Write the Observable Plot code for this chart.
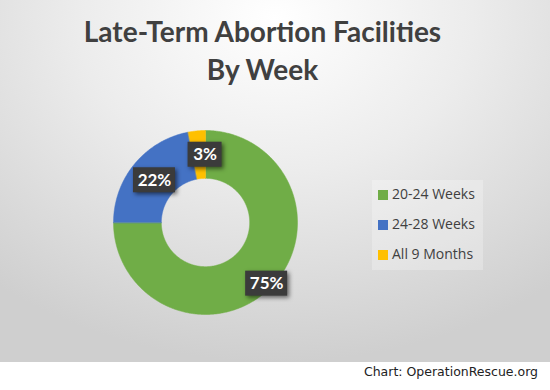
<!DOCTYPE html>
<html>
<head>
<meta charset="utf-8">
<script src="https://cdn.jsdelivr.net/npm/d3@7"></script>
<script src="https://cdn.jsdelivr.net/npm/@observablehq/plot@0.6"></script>
<style>
  html, body { margin: 0; padding: 0; background: #fff; }
  #wrap { position: relative; width: 550px; height: 390px; overflow: hidden; }
  #panel { position: absolute; left: 0; top: 0; width: 550px; height: 362px;
    background: radial-gradient(ellipse 80% 95% at 50% 5%, #ffffff 0%, #ececec 45%, #cfcfcf 100%); }
  #title { position: absolute; left: 0; top: 12px; width: 525px; text-align: center;
    font-family: Lato, "Open Sans", sans-serif; font-weight: 700; font-size: 28px; line-height: 38px; color: #404040; }
  #chart { position: absolute; left: 0; top: 95px; }
  #chart svg { background: transparent !important; overflow: visible; }
  #chart g[aria-label="rect"] rect { filter: drop-shadow(2px 2px 2px rgba(0,0,0,0.55)); }
  #legend { position: absolute; left: 372px; top: 180px; width: 111px; height: 90px;
    background: rgba(255,255,255,0.25); font-family: "Open Sans", sans-serif; font-size: 14px; color: #404040; }
  .item { position: absolute; left: 6px; height: 20px; line-height: 20px; white-space: nowrap; }
  .sw { display: inline-block; width: 10px; height: 10px; margin-right: 4px; vertical-align: -1px; }
  #caption { position: absolute; right: 12px; top: 364px; font-family: "DejaVu Sans", Verdana, sans-serif;
    font-size: 12.5px; color: #222; }
</style>
</head>
<body>
<div id="wrap">
  <div id="panel"></div>
  <div id="title">Late-Term Abortion Facilities<br>By Week</div>
  <div id="chart"></div>
  <div id="legend"></div>
  <div id="caption">Chart: OperationRescue.org</div>
</div>
<script>
// ---- data ----
const categories = ["20-24 Weeks", "24-28 Weeks", "All 9 Months"];
const values = [75, 22, 3];
const labels = ["75%", "22%", "3%"];
const colors = ["#70AD47", "#4472C4", "#FFC000"];

// ---- layout config ----
const innerR = 0.48;
const labelRadius = [0.94, 0.72, 0.74];
const labelShift = [0, 0, 0.065];
const boxW = [42, 42, 34];
const pxPerUnit = 92;

const total = d3.sum(values);
const slices = [];
let acc = 0;
values.forEach((v, i) => {
  const a0 = acc / total * 2 * Math.PI;
  acc += v;
  const a1 = acc / total * 2 * Math.PI;
  slices.push({cat: categories[i], a0, a1, label: labels[i], i});
});

const polyPts = [];
for (const s of slices) {
  const n = Math.max(4, Math.ceil((s.a1 - s.a0) / 0.01));
  for (let k = 0; k <= n; k++) {
    const a = s.a0 + (s.a1 - s.a0) * k / n;
    polyPts.push({cat: s.cat, x: Math.sin(a), y: Math.cos(a)});
  }
  for (let k = n; k >= 0; k--) {
    const a = s.a0 + (s.a1 - s.a0) * k / n;
    polyPts.push({cat: s.cat, x: innerR * Math.sin(a), y: innerR * Math.cos(a)});
  }
}

const lab = slices.map(s => {
  const m = (s.a0 + s.a1) / 2;
  const r = labelRadius[s.i];
  return {label: s.label, x: r * Math.sin(m) + labelShift[s.i], y: r * Math.cos(m),
          hw: boxW[s.i] / 2 / pxPerUnit, hh: 12.5 / pxPerUnit};
});

const cx = 205, cy = 127, R = 92;
const plot = Plot.plot({
  width: 550, height: 267,
  margin: 0,
  x: {domain: [-1, 1], range: [cx - R, cx + R], axis: null},
  y: {domain: [-1, 1], range: [cy + R, cy - R], axis: null},
  color: {domain: categories, range: colors},
  style: {background: "transparent"},
  marks: [
    Plot.line(polyPts, {x: "x", y: "y", z: "cat", fill: "cat", stroke: "cat", strokeWidth: 0.5, curve: "linear-closed"}),
    Plot.rect(lab, {x1: d => d.x - d.hw, x2: d => d.x + d.hw, y1: d => d.y - d.hh, y2: d => d.y + d.hh, fill: "#3b3b3b"}),
    Plot.text(lab, {x: "x", y: "y", text: "label", fill: "white", fontWeight: "bold", fontSize: 17,
      fontFamily: "Lato, 'Open Sans', sans-serif"})
  ]
});
document.getElementById("chart").appendChild(plot);

const legend = document.getElementById("legend");
categories.forEach((c, i) => {
  const d = document.createElement("div");
  d.className = "item";
  d.style.top = (4 + i * 30) + "px";
  d.innerHTML = `<span class="sw" style="background:${colors[i]}"></span>${c}`;
  legend.appendChild(d);
});
</script>
</body>
</html>
